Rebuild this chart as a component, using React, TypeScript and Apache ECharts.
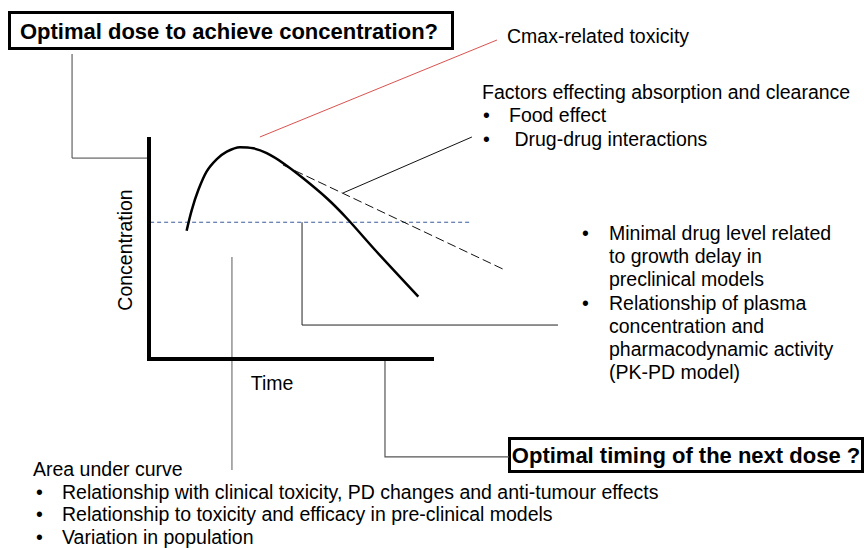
import React, { useEffect, useRef } from "react";
import * as echarts from "echarts";

// Axes of the schematic PK plot (time and concentration in arbitrary units 0..10)
const axisT = [0, 0, 10];
const axisC = [10, 0, 0];

// PK curve
const pkTime = [1.32, 1.5, 1.73, 2.02, 2.38, 2.73, 3.19, 3.66, 4.13, 4.71, 5.41, 6.24, 6.94, 7.99, 9.45];
const pkConc = [5.78, 6.71, 7.61, 8.44, 9.0, 9.34, 9.54, 9.49, 9.27, 8.82, 8.14, 7.24, 6.34, 4.83, 2.81];

// Alternative (slower clearance) tail, dashed
const altTime = [4.7, 12.42];
const altConc = [8.74, 4.05];

// Minimal effective level (blue dashed)
const mecTime = [0.04, 11.33];
const mecConc = [6.16, 6.16];

// Annotation leader lines
const cmaxLeaderT = [3.89, 12.21];
const cmaxLeaderC = [10.0, 14.37];
const factorLeaderT = [6.81, 11.33];
const factorLeaderC = [7.48, 10.0];
const mecLeaderT = [5.37, 5.37, 14.35];
const mecLeaderC = [6.16, 1.53, 1.53];
const doseLeaderT = [-2.7, -2.7, -0.04];
const doseLeaderC = [13.74, 9.05, 9.05];
const aucLeaderT = [2.91, 2.91];
const aucLeaderC = [4.59, -5.0];
const timingLeaderT = [8.28, 8.28, 12.63];
const timingLeaderC = [0, -4.41, -4.41];

const factorLines = ["Food effect", " Drug-drug interactions"];
const mecLines = [
  "Minimal drug level related",
  "to growth delay in",
  "preclinical models",
  "Relationship of plasma",
  "concentration and",
  "pharmacodynamic activity",
  "(PK-PD model)",
];
const aucLines = [
  "Relationship with clinical toxicity, PD changes and anti-tumour effects",
  "Relationship to toxicity and efficacy in pre-clinical models",
  "Variation in population",
];

const zip = (a: number[], b: number[]) => a.map((v, i) => [v, b[i]]);

const FONT = "Liberation Sans, Arial, sans-serif";
const FS = 19.5;

function lineSeries(t: number[], c: number[], color: string, width: number, type: any = "solid", smooth: any = false) {
  return {
    type: "line",
    data: zip(t, c),
    symbol: "none",
    smooth,
    silent: true,
    lineStyle: { color, width, type, join: "miter", cap: "butt" },
  };
}

function txt(x: number, y: number, text: string, opts: any = {}) {
  return {
    type: "text",
    x,
    y,
    rotation: opts.rotation || 0,
    style: {
      text,
      fill: "#000",
      fontSize: opts.size || FS,
      fontFamily: FONT,
      fontWeight: opts.weight || "normal",
      textAlign: opts.align || "left",
      textVerticalAlign: "middle",
    },
  };
}

// pixel mapping of the units: 28.5 px per time unit from x=149, 22.2 px per conc unit up from y=359
const X0 = 149, XS = 28.5, Y0 = 359, YS = 22.2, W = 867, H = 548;

export default function App() {
  const ref = useRef<HTMLDivElement>(null);
  useEffect(() => {
    document.body.style.margin = "0";
    const chart = echarts.init(ref.current!, null, { renderer: "svg" });
    const graphics: any[] = [];
    graphics.push({
      type: "rect",
      shape: { x: 9.5, y: 12.5, width: 443, height: 36 },
      style: { fill: "#fff", stroke: "#000", lineWidth: 3 },
    });
    graphics.push(txt(229, 31, "Optimal dose to achieve concentration?", { size: 22, weight: "bold", align: "center" }));
    graphics.push({
      type: "rect",
      shape: { x: 509.5, y: 438.5, width: 353, height: 33 },
      style: { fill: "#fff", stroke: "#000", lineWidth: 3 },
    });
    graphics.push(txt(686, 455, "Optimal timing of the next dose ?", { size: 22, weight: "bold", align: "center" }));
    graphics.push(txt(507, 36, "Cmax-related toxicity"));
    graphics.push(txt(482, 92, "Factors effecting absorption and clearance"));
    factorLines.forEach((l, i) => {
      graphics.push(txt(483, 115 + i * 23.5, "•"));
      graphics.push(txt(509, 115 + i * 23.5, l));
    });
    mecLines.forEach((l, i) => {
      const y = 233 + i * 23.2;
      if (i === 0 || i === 3) graphics.push(txt(582, y, "•"));
      graphics.push(txt(609, y, l));
    });
    graphics.push(txt(272, 383, "Time", { align: "center" }));
    graphics.push(txt(125, 250, "Concentration", { align: "center", rotation: Math.PI / 2 }));
    graphics.push(txt(33, 469, "Area under curve"));
    aucLines.forEach((l, i) => {
      const y = 492 + i * 22.3;
      graphics.push(txt(36, y, "•"));
      graphics.push(txt(62, y, l));
    });

    chart.setOption({
      animation: false,
      backgroundColor: "#fff",
      grid: { left: 0, top: 0, width: W, height: H },
      xAxis: { type: "value", show: false, min: -X0 / XS, max: (W - X0) / XS },
      yAxis: { type: "value", show: false, min: (Y0 - H) / YS, max: Y0 / YS },
      series: [
        lineSeries(doseLeaderT, doseLeaderC, "#444", 1),
        lineSeries(aucLeaderT, aucLeaderC, "#808080", 1.3),
        lineSeries(timingLeaderT, timingLeaderC, "#555", 1.2),
        lineSeries(mecLeaderT, mecLeaderC, "#222", 1),
        lineSeries(cmaxLeaderT, cmaxLeaderC, "#d9534f", 1),
        lineSeries(factorLeaderT, factorLeaderC, "#111", 1),
        lineSeries(mecTime, mecConc, "#3a5a9c", 1, [4, 3]),
        lineSeries(altTime, altConc, "#111", 1, [9, 4]),
        lineSeries(axisT, axisC, "#000", 4),
        lineSeries(pkTime, pkConc, "#000", 2.5, "solid", 0.3),
      ],
      graphic: graphics,
    });
    return () => chart.dispose();
  }, []);
  return <div ref={ref} style={{ width: W, height: H }} />;
}
